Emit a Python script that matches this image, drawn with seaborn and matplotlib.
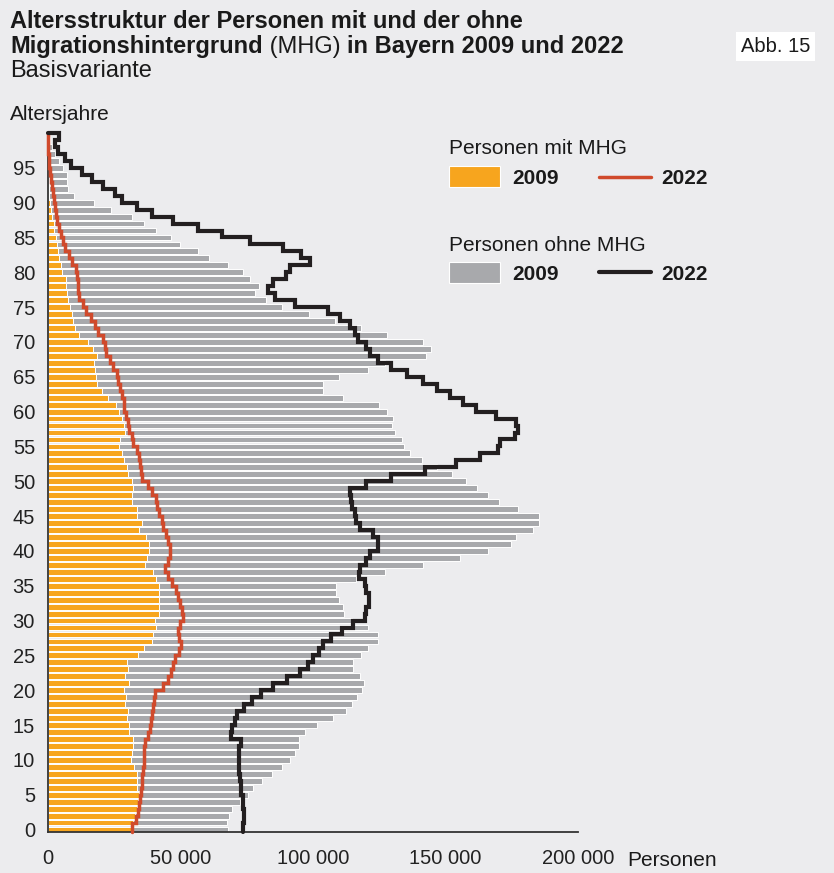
import numpy as np
import matplotlib
matplotlib.use("Agg")
import matplotlib.pyplot as plt
from matplotlib.lines import Line2D
from matplotlib.patches import Rectangle
from matplotlib.ticker import FuncFormatter, MultipleLocator
import seaborn as sns

# ages 0..100
ages = np.arange(0, 101)

# 2009 bars, thousand persons per single year of age
mhg_2009 = [
  31.3, 32.1, 33.0, 33.6, 34.2, 34.4, 33.6, 33.9, 33.6, 32.7,
  31.5, 31.9, 32.3, 32.3, 30.6, 30.6, 29.9, 30.4, 29.2, 29.6,
  28.9, 30.8, 29.2, 30.4, 30.1, 34.2, 36.3, 39.4, 39.6, 40.9,
  40.6, 42.1, 41.9, 42.1, 42.1, 42.0, 40.9, 39.6, 36.8, 37.6,
  38.2, 38.3, 37.1, 34.6, 35.5, 33.6, 33.8, 31.7, 31.7, 32.3,
  31.9, 30.2, 29.8, 28.8, 27.9, 26.9, 27.3, 29.2, 28.9, 27.9,
  26.9, 25.7, 22.9, 20.4, 18.8, 18.1, 17.9, 17.6, 18.5, 17.3,
  15.4, 12.0, 10.2, 9.6, 9.2, 8.4, 7.9, 7.4, 7.1, 6.8,
  5.6, 5.0, 4.5, 4.1, 3.5, 3.1, 2.6, 2.4, 1.8, 1.3,
  0.9, 0.7, 0.5, 0.4, 0.3, 0.25, 0.2, 0.15, 0.1, 0.05, 0.03]

ohne_2009 = [
  68.0, 67.6, 68.5, 69.4, 72.5, 75.6, 77.5, 80.7, 84.7, 88.4,
  91.3, 93.2, 94.7, 94.6, 97.2, 101.6, 107.6, 112.4, 114.8, 116.7,
  118.6, 119.3, 117.7, 115.0, 115.1, 118.1, 120.6, 124.6, 124.4, 120.6,
  114.6, 111.7, 111.4, 109.8, 108.7, 108.8, 116.2, 127.3, 141.4, 155.6,
  166.1, 174.7, 176.5, 183.1, 185.1, 185.4, 177.5, 170.3, 165.9, 161.7,
  157.6, 152.5, 146.8, 141.3, 136.8, 134.5, 133.5, 130.9, 129.8, 130.3,
  127.8, 124.9, 111.5, 104.0, 104.0, 109.8, 120.6, 127.1, 142.6, 144.4,
  141.5, 128.1, 118.3, 108.5, 98.6, 88.4, 82.2, 78.2, 79.8, 76.5,
  73.8, 67.9, 60.8, 56.8, 49.9, 46.5, 40.9, 36.3, 31.9, 23.9,
  17.6, 10.0, 7.8, 7.4, 7.3, 5.8, 4.3, 2.8, 1.8, 1.0, 0.5]

# 2022 step lines, value for age a runs from a to a+1
mhg_2022 = [
  31.9, 33.2, 34.0, 34.3, 34.8, 35.2, 35.6, 35.8, 36.1, 36.2,
  36.3, 36.5, 36.8, 37.7, 38.6, 39.0, 39.2, 39.6, 40.1, 40.7,
  43.6, 45.3, 46.4, 47.2, 48.0, 49.6, 50.3, 49.6, 49.0, 49.9,
  50.9, 50.5, 49.9, 49.0, 48.3, 46.8, 45.5, 44.3, 45.5, 46.1,
  46.1, 45.3, 44.5, 43.6, 43.0, 41.9, 41.4, 40.8, 39.2, 38.0,
  35.5, 35.1, 34.8, 34.6, 33.6, 32.3, 31.7, 30.8, 30.4, 29.6,
  28.8, 28.8, 27.9, 27.3, 26.7, 26.1, 24.8, 23.5, 22.0, 21.5,
  21.0, 19.1, 17.9, 16.3, 14.5, 13.3, 12.0, 11.6, 11.4, 11.2,
  10.7, 9.1, 8.2, 6.6, 6.0, 5.1, 4.5, 3.7, 3.2, 2.8,
  2.4, 2.1, 1.7, 1.3, 0.9, 0.7, 0.4, 0.3, 0.2, 0.1]

ohne_2022 = [
  73.5, 74.1, 74.1, 73.7, 73.5, 73.1, 72.8, 72.4, 72.3, 72.2,
  72.2, 72.3, 72.8, 69.1, 69.4, 70.6, 71.5, 74.1, 77.1, 80.3,
  84.8, 90.3, 95.1, 98.2, 100.1, 102.4, 103.9, 107.0, 110.8, 115.2,
  119.6, 120.2, 121.2, 121.2, 120.2, 119.6, 117.4, 117.7, 120.0, 121.7,
  124.6, 124.6, 122.7, 117.7, 116.2, 115.8, 114.9, 114.3, 113.9, 120.2,
  129.6, 142.2, 154.1, 162.9, 169.8, 170.4, 176.1, 177.3, 176.7, 168.9,
  161.3, 156.4, 151.6, 146.6, 141.6, 135.3, 129.6, 124.6, 121.7, 120.2,
  117.1, 115.8, 114.0, 110.2, 105.8, 93.2, 85.7, 83.2, 85.0, 89.8,
  91.3, 98.9, 95.7, 88.8, 76.3, 65.6, 56.8, 47.4, 39.2, 33.6,
  27.9, 25.4, 20.8, 16.6, 12.9, 8.7, 6.6, 4.1, 2.8, 4.5]

BG = "#ececee"
ORANGE = "#f7a51e"
GREY = "#a8a9ac"
RED = "#d04a2c"
BLACK = "#231f20"

sns.set_theme(style="white")
plt.rcParams["font.family"] = ["Liberation Sans", "DejaVu Sans"]
plt.rcParams["axes.facecolor"] = BG
plt.rcParams["figure.facecolor"] = BG

W, H = 834, 873
fig = plt.figure(figsize=(W / 100, H / 100), dpi=100)
ax = fig.add_axes([47.5 / W, 40.7 / H, 530.7 / W, 699.3 / H])


def fx(px):
  return px / W


def fy(py):
  return 1 - py / H


def step_xy(vals):
  v = np.asarray(vals) * 1000
  ys = np.column_stack([ages[:-1], ages[1:]]).ravel().astype(float)
  ys[0] = -0.4
  xs = np.repeat(v, 2)
  return np.append(xs, 0), np.append(ys, 100)


sns.barplot(x=np.array(ohne_2009) * 1000, y=ages, orient="y", native_scale=True,
            color=GREY, saturation=1, width=0.84, edgecolor="white",
            linewidth=0.7, errorbar=None, ax=ax)
sns.barplot(x=np.array(mhg_2009) * 1000, y=ages, orient="y", native_scale=True,
            color=ORANGE, saturation=1, width=0.84, edgecolor="white",
            linewidth=0.7, errorbar=None, ax=ax)

xs, ys = step_xy(mhg_2022)
ax.plot(xs, ys, color=RED, lw=2.5, solid_joinstyle="miter", clip_on=False, zorder=5)
xs, ys = step_xy(ohne_2022)
ax.plot(xs, ys, color=BLACK, lw=3.0, solid_joinstyle="miter", clip_on=False, zorder=6)

ax.set_xlim(0, 200000)
ax.set_ylim(-0.4, 100)
ax.set_xlabel("")
ax.set_ylabel("")
ax.xaxis.set_major_locator(MultipleLocator(50000))
ax.set_yticks(np.arange(0, 100, 5))
ax.xaxis.set_major_formatter(FuncFormatter(lambda v, p: f"{int(v):,}".replace(",", " ")))
ax.tick_params(axis="x", direction="in", length=5, width=1, color="#555555",
               labelsize=14.5, pad=12, labelcolor="#222222")
ax.tick_params(axis="y", length=0, labelsize=14.5, pad=9, labelcolor="#222222")
for side in ["top", "right"]:
  ax.spines[side].set_visible(False)
for side in ["left", "bottom"]:
  ax.spines[side].set_color("#333333")
  ax.spines[side].set_linewidth(1.3)
ax.grid(False)

# header
TXT = "#1a1a1a"
TS = 17
fig.text(fx(10), fy(28), "Altersstruktur der Personen mit und der ohne",
         fontsize=TS, weight="bold", color=TXT, va="baseline")
renderer = fig.canvas.get_renderer()
x0 = 10
for part, wt in [("Migrationshintergrund", "bold"), (" (MHG) ", "normal"),
                 ("in Bayern 2009 und 2022", "bold")]:
  t = fig.text(fx(x0), fy(53), part, fontsize=TS, weight=wt, color=TXT, va="baseline")
  x0 += t.get_window_extent(renderer).width
fig.text(fx(10), fy(77), "Basisvariante", fontsize=TS, color=TXT, va="baseline")
fig.text(fx(741), fy(52), "Abb. 15", fontsize=14.5, color=TXT, va="baseline",
         bbox=dict(facecolor="white", edgecolor="none", pad=3.5))
fig.text(fx(10), fy(120), "Altersjahre", fontsize=15, color=TXT, va="baseline")
fig.text(fx(627), fy(866), "Personen", fontsize=15, color=TXT, va="baseline")

# legend
LS = 15
fig.text(fx(449), fy(154), "Personen mit MHG", fontsize=LS, color=TXT, va="baseline")
fig.patches.append(Rectangle((fx(449), fy(187)), fx(51), 21 / H, transform=fig.transFigure,
                             facecolor=ORANGE, edgecolor="white", lw=0.8))
fig.text(fx(512), fy(184), "2009", fontsize=LS, weight="bold", color=TXT, va="baseline")
fig.lines.append(Line2D([fx(599), fx(651)], [fy(177), fy(177)], transform=fig.transFigure,
                        color=RED, lw=2.5))
fig.text(fx(661), fy(184), "2022", fontsize=LS, weight="bold", color=TXT, va="baseline")

fig.text(fx(449), fy(251), "Personen ohne MHG", fontsize=LS, color=TXT, va="baseline")
fig.patches.append(Rectangle((fx(449), fy(283)), fx(51), 21 / H, transform=fig.transFigure,
                             facecolor=GREY, edgecolor="white", lw=0.8))
fig.text(fx(512), fy(280), "2009", fontsize=LS, weight="bold", color=TXT, va="baseline")
fig.lines.append(Line2D([fx(599), fx(651)], [fy(272), fy(272)], transform=fig.transFigure,
                        color=BLACK, lw=3.0))
fig.text(fx(661), fy(280), "2022", fontsize=LS, weight="bold", color=TXT, va="baseline")

fig.savefig("out.png", dpi=100, facecolor=BG)
